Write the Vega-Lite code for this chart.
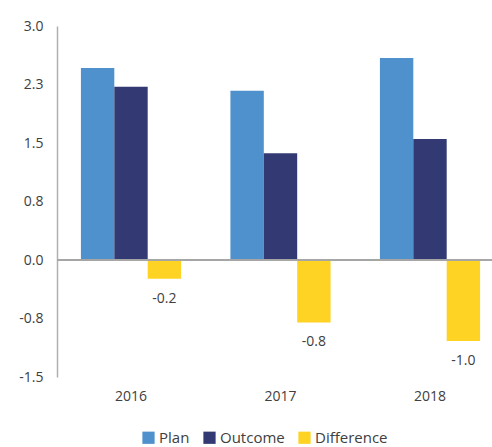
{
  "$schema": "https://vega.github.io/schema/vega-lite/v6.json",
  "width": 435,
  "height": 351,
  "autosize": "none",
  "padding": {"left": 57, "top": 26, "right": 0, "bottom": 70},
  "background": "white",
  "config": {
    "view": {"stroke": null},
    "font": "Open Sans",
    "axis": {"labelFont": "Open Sans", "labelColor": "#404040", "labelFontSize": 14}
  },
  "data": {
    "values": [
      {"year": "2016", "series": "Plan", "value": 2.46, "label": ""},
      {"year": "2016", "series": "Outcome", "value": 2.22, "label": ""},
      {"year": "2016", "series": "Difference", "value": -0.24, "label": "-0.2"},
      {"year": "2017", "series": "Plan", "value": 2.17, "label": ""},
      {"year": "2017", "series": "Outcome", "value": 1.37, "label": ""},
      {"year": "2017", "series": "Difference", "value": -0.8, "label": "-0.8"},
      {"year": "2018", "series": "Plan", "value": 2.59, "label": ""},
      {"year": "2018", "series": "Outcome", "value": 1.55, "label": ""},
      {"year": "2018", "series": "Difference", "value": -1.04, "label": "-1.0"}
    ]
  },
  "encoding": {
    "x": {
      "field": "year",
      "type": "nominal",
      "scale": {"paddingInner": 0.33, "paddingOuter": 0.16, "range": [0, 447]},
      "axis": {"title": null, "labelAngle": 0, "domain": false, "ticks": false, "labelPadding": 12, "orient": "bottom"}
    },
    "xOffset": {"field": "series", "type": "nominal", "scale": {"domain": ["Plan", "Outcome", "Difference"]}}
  },
  "layer": [
    {
      "mark": {"type": "bar"},
      "encoding": {
        "y": {
          "field": "value",
          "type": "quantitative",
          "scale": {"domain": [-1.5, 3], "nice": false, "zero": false},
          "axis": {
            "title": null,
            "values": [-1.5, -0.75, 0, 0.75, 1.5, 2.25, 3],
            "format": ".1f",
            "labelExpr": "replace(datum.label, '\u2212', '-')",
            "grid": false,
            "ticks": false,
            "domainColor": "#b0b0b0",
            "domainWidth": 1.5,
            "labelPadding": 14
          }
        },
        "color": {
          "field": "series",
          "type": "nominal",
          "scale": {"domain": ["Plan", "Outcome", "Difference"], "range": ["#4F91CD", "#333A73", "#FED324"]},
          "legend": {
            "title": null,
            "orient": "none",
            "direction": "horizontal",
            "legendX": 84,
            "legendY": 404,
            "symbolType": "square",
            "symbolSize": 150,
            "symbolStrokeWidth": 0,
            "labelFontSize": 15,
            "labelColor": "#404040",
            "labelFont": "Open Sans",
            "columnPadding": 12,
            "labelOffset": 3
          }
        }
      }
    },
    {
      "transform": [{"filter": "datum.series === 'Difference'"}],
      "mark": {"type": "text", "baseline": "middle", "dy": 20, "fontSize": 14, "color": "#404040", "font": "Open Sans"},
      "encoding": {
        "y": {"field": "value", "type": "quantitative"},
        "text": {"field": "label", "type": "nominal"}
      }
    },
    {
      "mark": {"type": "rule", "color": "#a6a6a6", "strokeWidth": 1.5},
      "encoding": {"y": {"datum": 0}, "x": null, "xOffset": null}
    }
  ]
}
